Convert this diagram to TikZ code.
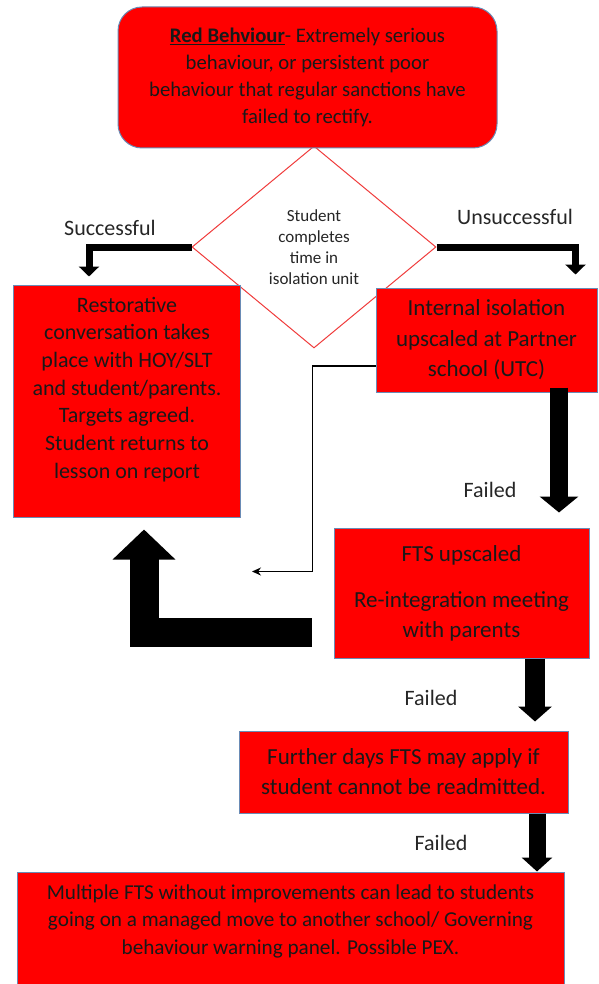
\documentclass[tikz,border=0pt]{standalone}
\usepackage{fontspec}
\setmainfont{Carlito}
\usetikzlibrary{shapes.geometric,arrows.meta,calc}
\definecolor{boxred}{HTML}{FF0000}
\definecolor{rimblue}{HTML}{6A8BB5}
\definecolor{lozenge}{HTML}{F03C3C}

\begin{document}
\begin{tikzpicture}[x=1pt,y=-1pt,
  redbox/.style={draw=rimblue,fill=boxred,line width=1pt,align=center,inner sep=2pt,text=black!90},
  fat/.style={line width=#1,line join=miter},
  lbl/.style={font=\fontsize{22}{26}\selectfont,text=black!85}]
\useasboundingbox (0,0) rectangle (598,984);
\node[diamond,draw=lozenge,fill=white,line width=1pt,minimum width=244pt,minimum height=202pt,inner sep=0pt,align=center,font=\fontsize{17}{21}\selectfont,text=black!85] (iso) at (314,247) {Student\\completes\\time in\\isolation unit};
\node[redbox,rounded corners=24pt,minimum width=379pt,minimum height=141pt,font=\fontsize{20.7}{27}\selectfont] (red) at (307.5,77.5) {\underline{\textbf{Red Behviour}}- Extremely serious\\behaviour, or persistent poor\\behaviour that regular sanctions have\\failed to rectify.};
\node[redbox,minimum width=227pt,minimum height=232pt,font=\fontsize{22}{27.7}\selectfont,text depth=27pt] (rest) at (127,401) {Restorative\\conversation takes\\place with HOY/SLT\\and student/parents.\\Targets agreed.\\Student returns to\\lesson on report};
\node[redbox,minimum width=221pt,minimum height=104pt,font=\fontsize{23}{30.5}\selectfont] (int) at (486.5,340) {Internal isolation\\upscaled at Partner\\school (UTC)};
\node[redbox,minimum width=255pt,minimum height=130pt,font=\fontsize{23}{30}\selectfont] (fts) at (461.5,593) {FTS upscaled\\[16pt]Re-integration meeting\\with parents};
\node[redbox,minimum width=329pt,minimum height=82pt,font=\fontsize{23}{30}\selectfont] (more) at (403.5,772) {Further days FTS may apply if\\student cannot be readmitted.};
\node[redbox,minimum width=547pt,minimum height=114pt,font=\fontsize{21.2}{27.5}\selectfont,text depth=19pt] (pex) at (290.5,929) {Multiple FTS without improvements can lead to students\\going on a managed move to another school/ Governing\\behaviour warning panel. Possible PEX.};
\node[lbl] (ok) at (110,228) {Successful};
\node[lbl] (nok) at (515,217) {Unsuccessful};
\node[lbl] (fail1) at (490,490) {Failed};
\node[lbl] (fail2) at (431,698) {Failed};
\node[lbl] (fail3) at (441,843) {Failed};
\coordinate (back) at ($(rest.south east)+(11,54)$);
\draw[fat=7pt,-{Triangle[width=20pt,length=10pt]}] (iso.west) -| ($(rest.north west)+(76,-8)$);
\draw[fat=7pt,-{Triangle[width=20pt,length=10pt]}] (iso.east) -| ($(int.north east)+(-22,-13)$);
\draw[fat=18pt,-{Triangle[width=38pt,length=16pt]}] ($(int.south)+(72.5,-5)$) -- ($(fts.north)+(97.5,-15)$);
\draw[fat=29pt,-{Triangle[width=61pt,length=30pt]}] ($(fts.west)+(-22,39.5)$) -| ($(rest.south)+(17,12)$);
\draw[fat=20pt,-{Triangle[width=33pt,length=15pt]}] ($(fts.south)+(73.5,0)$) -- ($(more.north)+(131.5,-9)$);
\draw[fat=17pt,-{Triangle[width=30pt,length=14pt]}] ($(more.south)+(133.5,0)$) -- ($(pex.north)+(246.5,0)$);
\draw[line width=1.3pt,-{Stealth[length=9pt,width=8pt]}] ($(int.west)+(0,26)$) -- ++(-63,0) |- (back);
\end{tikzpicture}
\end{document}
